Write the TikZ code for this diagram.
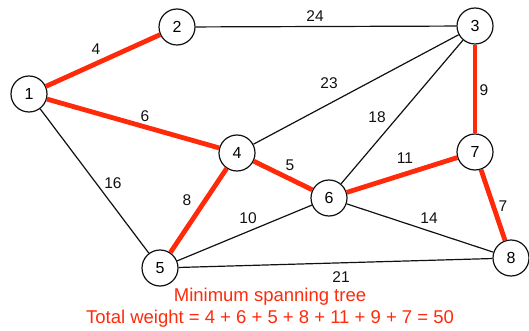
\documentclass[tikz,border=0pt]{standalone}
\usepackage{fontspec}
\setmainfont{Liberation Sans}
\usepackage{xcolor}
\usepackage{tikz}
\definecolor{treered}{HTML}{FF2A0A}
\definecolor{ink}{HTML}{111111}

\begin{document}
\begin{tikzpicture}[
  x=1pt, y=-1pt,
  vertex/.style={circle, draw=ink, line width=1.2pt, fill=white, minimum size=36pt,
                 inner sep=0pt, font=\fontsize{16}{18}\selectfont},
  weight/.style={font=\fontsize{15.5}{18}\selectfont, text=ink, inner sep=1pt},
  edge/.style={draw=ink, line width=1.2pt},
  tree/.style={draw=treered, line width=4.8pt},
  caption/.style={text=treered, font=\fontsize{18.5}{22}\selectfont, align=center}
]
  \useasboundingbox (0,0) rectangle (529,331);
  % vertices
  \node[vertex] (v1) at (29,94) {1};
  \node[vertex] (v2) at (177,27) {2};
  \node[vertex] (v3) at (475,26) {3};
  \node[vertex] (v4) at (237,153) {4};
  \node[vertex] (v5) at (160,268) {5};
  \node[vertex] (v6) at (329,198) {6};
  \node[vertex] (v7) at (475,152) {7};
  \node[vertex] (v8) at (511,258) {8};
  % edges not in the tree
  \draw[edge] (v2) -- (v3);
  \draw[edge] (v4) -- (v3);
  \draw[edge] (v6) -- (v3);
  \draw[edge] (v1) -- (v5);
  \draw[edge] (v5) -- (v6);
  \draw[edge] (v6) -- (v8);
  \draw[edge] (v5) -- (v8);
  % tree edges
  \draw[tree] (v1) -- (v2);
  \draw[tree] (v1) -- (v4);
  \draw[tree] (v4) -- (v6);
  \draw[tree] (v4) -- (v5);
  \draw[tree] (v6) -- (v7);
  \draw[tree] (v3) -- (v7);
  \draw[tree] (v7) -- (v8);
  % weights
  \node[weight] (w12) at (96,49) {4};
  \node[weight] (w14) at (145,116) {6};
  \node[weight] (w23) at (315,16) {24};
  \node[weight] (w34) at (329,83) {23};
  \node[weight] (w36) at (377,117) {18};
  \node[weight] (w37) at (484,90) {9};
  \node[weight] (w67) at (405,158) {11};
  \node[weight] (w46) at (290,165) {5};
  \node[weight] (w15) at (113,183) {16};
  \node[weight] (w45) at (187,200) {8};
  \node[weight] (w56) at (248,218) {10};
  \node[weight] (w68) at (429,218) {14};
  \node[weight] (w78) at (503,206) {7};
  \node[weight] (w58) at (341,277) {21};
  % caption
  \node[caption] (title) at (270,308)
    {Minimum spanning tree\\Total weight = 4 + 6 + 5 + 8 + 11 + 9 + 7 = 50};
\end{tikzpicture}
\end{document}
